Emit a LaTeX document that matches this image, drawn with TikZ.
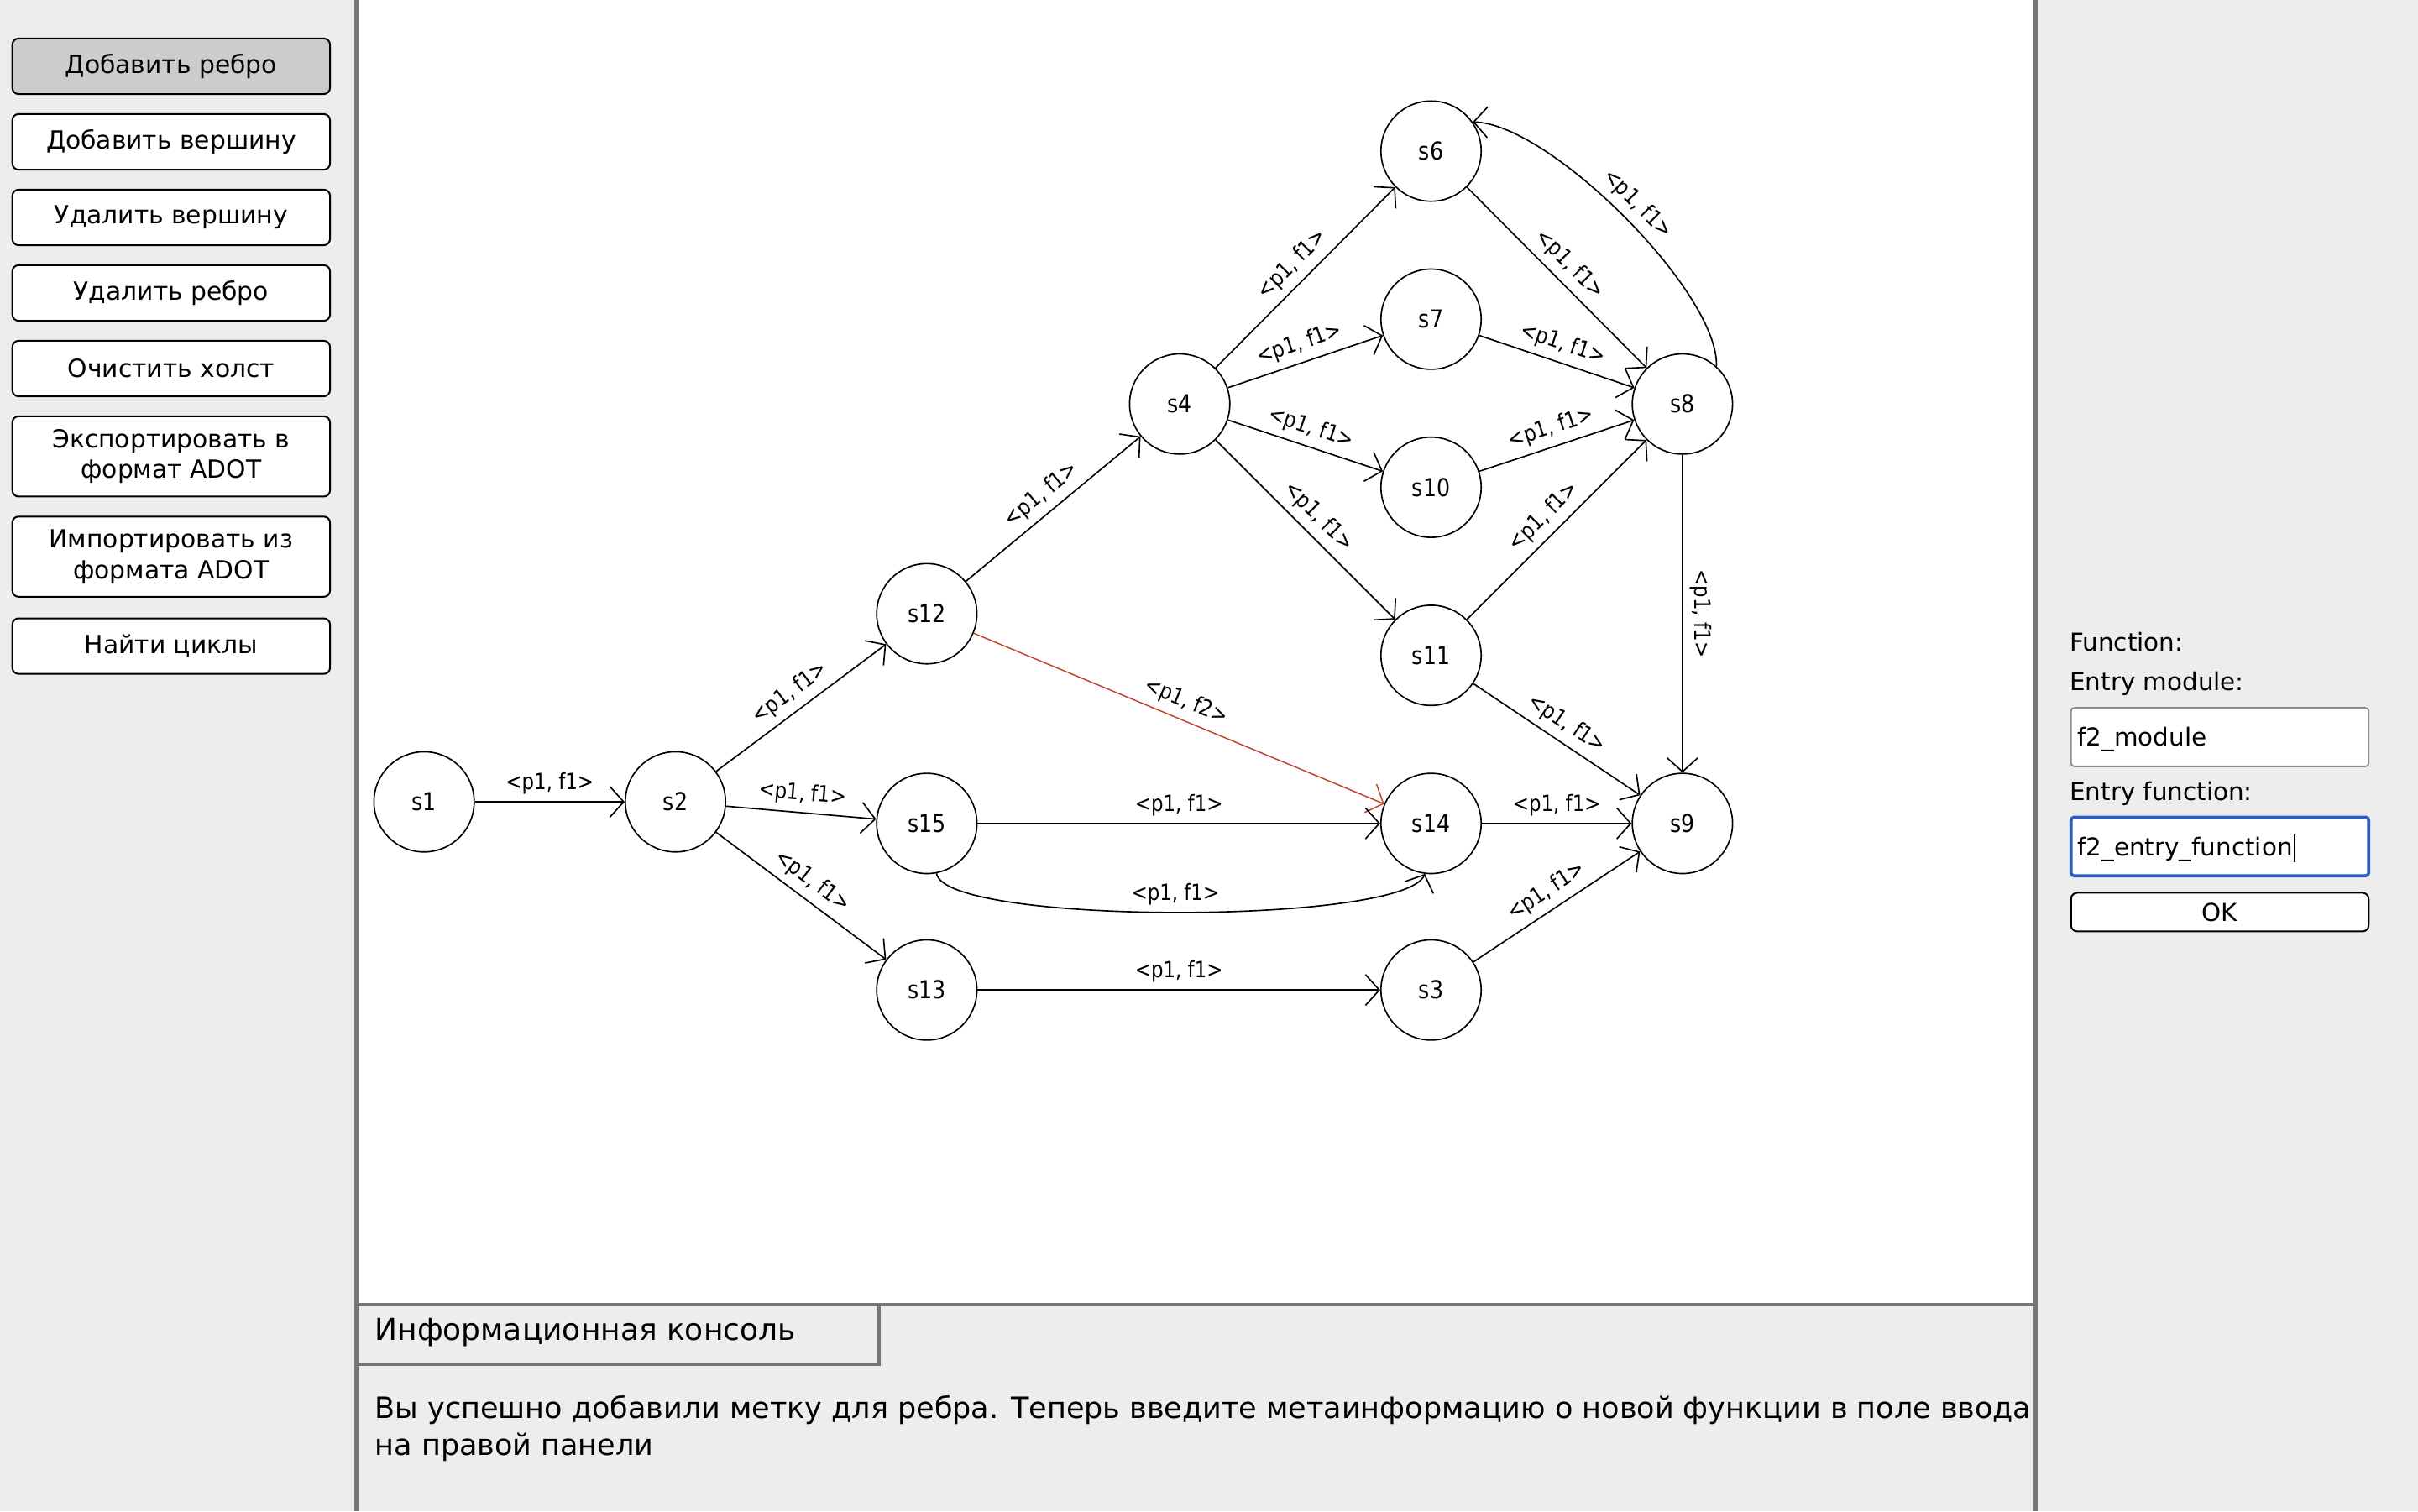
\documentclass[tikz,border=0pt]{standalone}
\usepackage{fontspec}
\setmainfont{DejaVu Sans}
\newfontfamily\narrowfont[FakeStretch=0.86]{DejaVu Sans}
\usetikzlibrary{arrows.meta}
\definecolor{panelbg}{HTML}{EDEDED}
\definecolor{framegray}{HTML}{767676}
\definecolor{btnsel}{HTML}{CCCCCC}
\definecolor{rededge}{HTML}{C0432C}
\definecolor{focusblue}{HTML}{2C5CC5}
\definecolor{fieldline}{HTML}{8A8A8A}
\begin{document}
\begin{tikzpicture}[x=1pt,y=1pt,
  btn/.style={draw=black, line width=1.1pt, rounded corners=4pt, fill=white,
    minimum width=206pt, inner sep=0pt, align=center,
    font=\fontsize{16.2}{20}\selectfont},
  state/.style={circle, draw=black, line width=0.9pt, fill=white,
    minimum size=65pt, inner sep=0pt, font=\narrowfont\fontsize{16}{16}\selectfont},
  edge/.style={-{Straight Barb[length=9pt,width=20pt]}, line width=0.9pt},
  lbl/.style={sloped, above=3.5pt, inner sep=1pt, font=\narrowfont\fontsize{14.5}{14.5}\selectfont},
  paneltext/.style={anchor=base west, inner sep=0pt, font=\fontsize{16}{16}\selectfont},
  field/.style={fill=white, rounded corners=2pt, minimum width=193pt, inner sep=0pt}
]
\useasboundingbox (0,0) rectangle (1568,-980);
% backgrounds
\fill[panelbg] (0,0) rectangle (1568,-980);
\fill[white] (231,0) rectangle (1320,-846);
\draw[framegray, line width=2.5pt] (231,0) -- (231,-980);
\draw[framegray, line width=2.5pt] (1320,0) -- (1320,-980);
\draw[framegray, line width=2.5pt] (231,-846) -- (1320,-846);
\draw[framegray, line width=2pt] (570,-846) -- (570,-885) -- (231,-885);

% left buttons
\node[btn, fill=btnsel, minimum height=36pt] (b1) at (111,-43) {Добавить ребро};
\node[btn, minimum height=36pt] (b2) at (111,-92) {Добавить вершину};
\node[btn, minimum height=36pt] (b3) at (111,-141) {Удалить вершину};
\node[btn, minimum height=36pt] (b4) at (111,-190) {Удалить ребро};
\node[btn, minimum height=36pt] (b5) at (111,-239) {Очистить холст};
\node[btn, minimum height=52pt] (b6) at (111,-296) {Экспортировать в\\формат ADOT};
\node[btn, minimum height=52pt] (b7) at (111,-361) {Импортировать из\\формата ADOT};
\node[btn, minimum height=36pt] (b8) at (111,-419) {Найти циклы};

% console
\node[anchor=west, inner sep=0pt, font=\fontsize{19.6}{20}\selectfont] (tab) at (243,-864) {Информационная консоль};
\node[anchor=north west, inner sep=0pt, align=left, font=\fontsize{19.05}{24}\selectfont] (msg) at (243,-905)
  {Вы успешно добавили метку для ребра. Теперь введите метаинформацию о новой функции в поле ввода\\на правой панели};

% right panel
\node[paneltext] (fn) at (1342,-422) {Function:};
\node[paneltext] (em) at (1342,-448) {Entry module:};
\node[field, draw=fieldline, line width=1pt, minimum height=38pt] (fld1) at (1439.5,-478) {};
\node[paneltext] (fmtext) at (1347,-484) {f2\_module};
\node[paneltext] (ef) at (1342,-519) {Entry function:};
\node[field, draw=focusblue, line width=2pt, minimum height=38pt] (fld2) at (1439.5,-549) {};
\node[paneltext] (fetext) at (1347,-555) {f2\_entry\_function};
\draw[line width=0.8pt] ([xshift=1pt,yshift=-4pt]fetext.base east) -- ++(0,18);
\node[field, draw=black, line width=1.1pt, rounded corners=4pt, minimum height=25pt,
  font=\fontsize{16}{16}\selectfont] (ok) at (1439.5,-591.5) {OK};

% graph nodes
\node[state] (s1) at (275,-520) {s1};
\node[state] (s2) at (438,-520) {s2};
\node[state] (s12) at (601,-398) {s12};
\node[state] (s15) at (601,-534) {s15};
\node[state] (s13) at (601,-642) {s13};
\node[state] (s4) at (765,-262) {s4};
\node[state] (s6) at (928,-98) {s6};
\node[state] (s7) at (928,-207) {s7};
\node[state] (s10) at (928,-316) {s10};
\node[state] (s11) at (928,-425) {s11};
\node[state] (s14) at (928,-534) {s14};
\node[state] (s3) at (928,-642) {s3};
\node[state] (s8) at (1091,-262) {s8};
\node[state] (s9) at (1091,-534) {s9};

% edges
\draw[edge] (s1) -- node[lbl] {<p1, f1>} (s2);
\draw[edge] (s2) -- node[lbl] {<p1, f1>} (s12);
\draw[edge] (s2) -- node[lbl] {<p1, f1>} (s15);
\draw[edge] (s2) -- node[lbl] {<p1, f1>} (s13);
\draw[edge] (s12) -- node[lbl] {<p1, f1>} (s4);
\draw[edge, draw=rededge, line width=0.8pt] (s12) -- node[lbl, text=black] {<p1, f2>} (s14);
\draw[edge] (s15) -- node[lbl] {<p1, f1>} (s14);
\draw[edge] (s15.-79) .. controls (612,-600) and (910,-600) .. (s14.-97) node[lbl, pos=0.5] {<p1, f1>};
\draw[edge] (s13) -- node[lbl] {<p1, f1>} (s3);
\draw[edge] (s4) -- node[lbl] {<p1, f1>} (s6);
\draw[edge] (s4) -- node[lbl] {<p1, f1>} (s7);
\draw[edge] (s4) -- node[lbl] {<p1, f1>} (s10);
\draw[edge] (s4) -- node[lbl] {<p1, f1>} (s11);
\draw[edge] (s6) -- node[lbl] {<p1, f1>} (s8);
\draw[edge] (s8.48) .. controls (1115,-190) and (1005,-80) .. (s6.35) node[lbl, pos=0.5] {<p1, f1>};
\draw[edge] (s7) -- node[lbl] {<p1, f1>} (s8);
\draw[edge] (s10) -- node[lbl] {<p1, f1>} (s8);
\draw[edge] (s11) -- node[lbl] {<p1, f1>} (s8);
\draw[edge] (s11) -- node[lbl] {<p1, f1>} (s9);
\draw[edge] (s8) -- node[lbl] {<p1, f1>} (s9);
\draw[edge] (s14) -- node[lbl] {<p1, f1>} (s9);
\draw[edge] (s3) -- node[lbl] {<p1, f1>} (s9);
\end{tikzpicture}
\end{document}
